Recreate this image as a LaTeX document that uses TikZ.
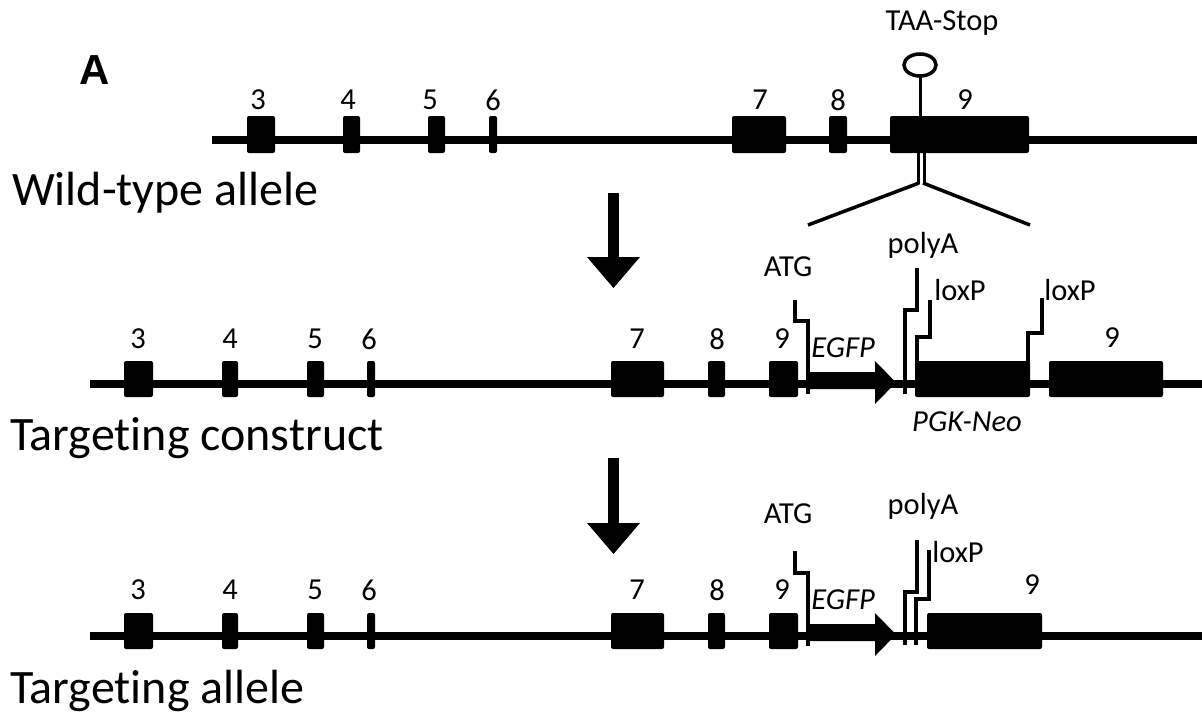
\documentclass[tikz,border=0pt]{standalone}
\usepackage{fontspec}
\setmainfont{Carlito}[Ligatures={NoCommon,NoContextual}]
\newfontfamily\panelfont{Liberation Sans}
\begin{document}
\begin{tikzpicture}[x=1pt,y=-1pt,
  backbone/.style={line width=8pt},
  exonbox/.style={fill=black, rounded corners=2pt},
  marker/.style={line width=3.5pt, line join=miter},
  lbl/.style={font=\fontsize{30.5}{32}\selectfont, inner sep=0pt},
  ilbl/.style={font=\fontsize{30.5}{32}\selectfont\itshape, inner sep=0pt},
  rowname/.style={font=\fontsize{48}{50}\selectfont, inner sep=0pt, anchor=base west}]
\useasboundingbox (0,0) rectangle (1202,715);

% panel letter
\node[font=\panelfont\bfseries\fontsize{42}{44}\selectfont, inner sep=0pt] (panel) at (95,70) {A};

% ---------- wild-type allele ----------
\def\yo{140}
\draw[backbone] (212,\yo) -- (1197,\yo);
\foreach \a/\b in {247/275, 343/360, 428/445, 489/497, 732/786, 829/847, 890/1029}
  \fill[exonbox] (\a,\yo-24) rectangle (\b,\yo+13);
\foreach \n/\x in {3/258, 4/348, 5/430, 6/493, 7/760, 8/838, 9/965}
  \node[lbl] (wt\n) at (\x,\yo-40) {\n};
% stop codon
\draw[line width=3.5pt] (920,65) ellipse [x radius=16pt, y radius=11pt];
\draw[line width=3pt] (920,76) -- (920,116);
\node[lbl] (stop) at (942,23) {TAA-Stop};
% insertion site
\draw[line width=3pt] (918,153) -- (918,184);
\draw[line width=3pt] (924,153) -- (924,184);
\draw[line width=3.5pt] (919,183) -- (808,225);
\draw[line width=3.5pt] (923,183) -- (1030,225);
\node[rowname] (wtname) at (12,205) {Wild-type allele};

% ---------- arrows ----------
\fill (608,193) rectangle (619,258);
\fill (587,257) -- (640,257) -- (613.5,288) -- cycle;
\fill (608,458) rectangle (619,524);
\fill (587,523) -- (640,523) -- (613.5,554) -- cycle;

% ---------- targeting construct ----------
\def\yo{384}
\draw[backbone] (90,\yo) -- (1202,\yo);
\foreach \a/\b in {124/153, 222/238, 307/324, 367/375, 611/664, 708/725, 769/798, 915/1030, 1049/1163}
  \fill[exonbox] (\a,\yo-23) rectangle (\b,\yo+13);
\foreach \n/\x in {3/138, 4/230, 5/315, 6/369, 7/637, 8/717, 9/782}
  \node[lbl] (tc\n) at (\x,\yo-45) {\n};
\node[lbl] (tc9b) at (1112,\yo-46) {9};
% EGFP
\fill (808,\yo-12) -- (875,\yo-12) -- (875,\yo-23) -- (896,\yo-1.5) -- (875,\yo+20) -- (875,\yo+5) -- (808,\yo+5) -- cycle;
\node[ilbl] (tcegfp) at (843,\yo-36) {EGFP};
\draw[marker] (795,\yo-84) -- (795,\yo-63) -- (808,\yo-63) -- (808,\yo+10);
\node[lbl] (tcatg) at (788,\yo-117) {ATG};
% polyA and loxP sites
\draw[marker] (917,\yo-116) -- (917,\yo-74) -- (905,\yo-74) -- (905,\yo+10);
\node[lbl] (tcpa) at (923,\yo-139) {polyA};
\draw[marker] (930,\yo-84) -- (930,\yo-47) -- (917,\yo-47) -- (917,\yo-22);
\node[lbl] (tclox1) at (960,\yo-94) {loxP};
\draw[marker] (1042,\yo-86) -- (1042,\yo-51) -- (1028,\yo-51) -- (1028,\yo-22);
\node[lbl] (tclox2) at (1070,\yo-94) {loxP};
\node[ilbl] (tcneo) at (967,\yo+38) {PGK-Neo};
\node[rowname] (tcname) at (10,\yo+66) {Targeting construct};

% ---------- targeting allele ----------
\def\yo{636}
\draw[backbone] (90,\yo) -- (1202,\yo);
\foreach \a/\b in {124/153, 222/238, 307/324, 367/375, 611/664, 708/725, 769/798, 927/1042}
  \fill[exonbox] (\a,\yo-23) rectangle (\b,\yo+13);
\foreach \n/\x in {3/138, 4/230, 5/315, 6/369, 7/637, 8/717, 9/782}
  \node[lbl] (ta\n) at (\x,\yo-46) {\n};
\node[lbl] (ta9b) at (1032,\yo-51) {9};
% EGFP
\fill (808,\yo-12) -- (875,\yo-12) -- (875,\yo-23) -- (896,\yo-1.5) -- (875,\yo+20) -- (875,\yo+5) -- (808,\yo+5) -- cycle;
\node[ilbl] (taegfp) at (843,\yo-36) {EGFP};
\draw[marker] (795,\yo-85) -- (795,\yo-63) -- (808,\yo-63) -- (808,\yo+10);
\node[lbl] (taatg) at (788,\yo-122) {ATG};
% remaining polyA and loxP
\draw[marker] (917,\yo-96) -- (917,\yo-44) -- (905,\yo-44) -- (905,\yo+9);
\node[lbl] (tapa) at (923,\yo-130) {polyA};
\draw[marker] (929,\yo-86) -- (929,\yo-37) -- (916,\yo-37) -- (916,\yo+9);
\node[lbl] (talox) at (958,\yo-84) {loxP};
\node[rowname] (taname) at (10,\yo+67) {Targeting allele};
\end{tikzpicture}
\end{document}
